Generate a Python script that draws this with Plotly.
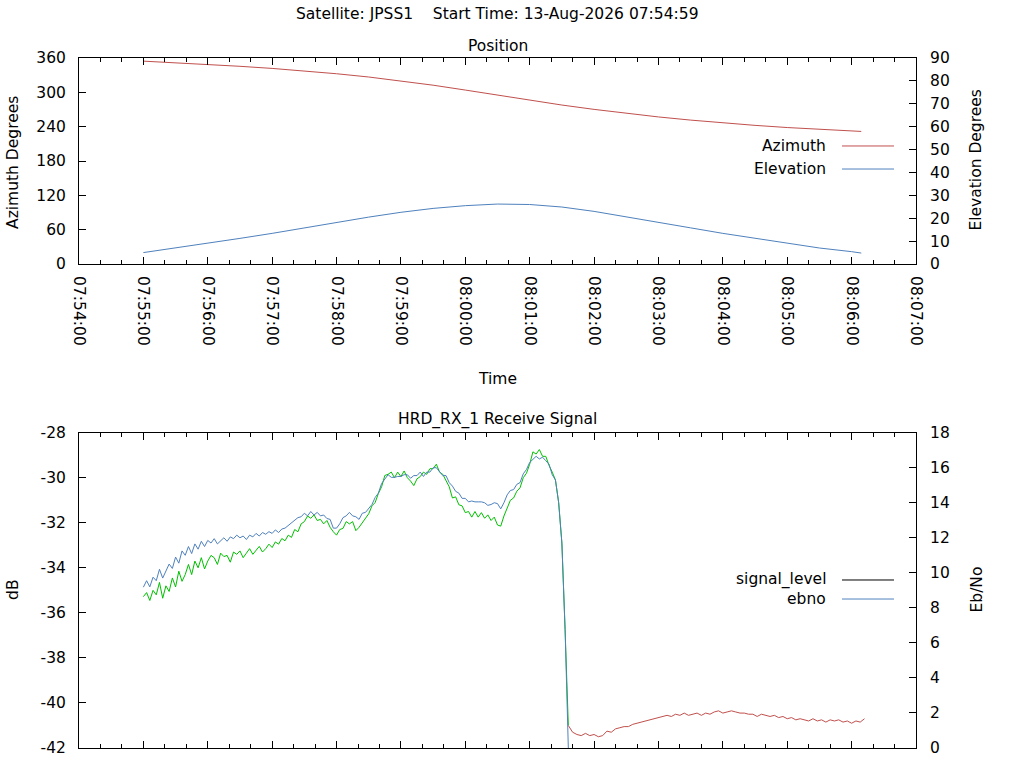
"""Satellite pass plot: position (az/el) and HRD_RX_1 receive signal."""

import pandas as pd
import plotly.graph_objects as go

START = pd.Timestamp("2026-08-13 07:55:00")

# --- Position (seconds after 07:55:00) ---
pos_t = [0, 30, 60, 90, 120, 150, 180, 210, 240, 270, 300, 330, 360,
         390, 420, 450, 480, 510, 540, 570, 600, 630, 660, 669]
azimuth = [354.5, 351.8, 348.8, 345.5, 341.8, 337.5, 332.5, 326.8, 320.2,
           312.5, 304.0, 295.0, 286.2, 277.8, 270.2, 263.2, 257.0, 251.5,
           246.6, 242.3, 238.5, 235.2, 232.4, 231.7]
elevation = [5.0, 7.0, 9.0, 11.2, 13.4, 15.8, 18.1, 20.5, 22.6, 24.3, 25.5,
             26.2, 26.0, 24.9, 23.0, 20.7, 18.2, 15.8, 13.4, 11.2, 9.0, 7.0,
             5.4, 4.8]

# --- Receive signal, locked part (every 3 s from 07:55:00) ---
sig_t = list(range(0, 397, 3))
signal_locked = [
    -35.28, -35.10, -35.45, -35.00, -35.20, -34.65, -35.35, -34.80, -35.05, -34.45,
    -34.85, -34.15, -34.60, -34.30, -33.85, -34.30, -33.70, -34.00, -33.55, -34.05,
    -33.70, -33.45, -33.55, -33.85, -33.35, -33.50, -33.45, -33.75, -33.30, -33.40,
    -33.25, -33.55, -33.35, -33.15, -33.40, -33.20, -33.05, -33.30, -33.15, -32.95,
    -33.10, -32.85, -32.95, -32.70, -32.80, -32.55, -32.65, -32.30, -32.40, -32.05,
    -31.95, -31.70, -31.80, -31.65, -31.90, -31.85, -32.05, -31.90, -32.20, -32.40,
    -32.55, -32.30, -32.25, -31.95, -32.05, -31.95, -32.35, -32.20, -32.00, -31.75,
    -31.60, -31.25, -31.10, -30.70, -30.40, -29.90, -29.85, -29.75, -30.00, -29.75,
    -29.95, -29.70, -30.00, -30.15, -30.35, -30.05, -29.95, -29.75, -29.85, -29.60,
    -29.60, -29.40, -29.75, -29.85, -30.10, -30.40, -30.90, -30.85, -31.20, -31.25,
    -31.55, -31.50, -31.75, -31.50, -31.75, -31.55, -31.80, -31.65, -31.90, -31.75,
    -32.10, -32.15, -31.70, -31.35, -31.00, -30.90, -30.60, -30.45, -30.00, -29.80,
    -29.40, -28.85, -28.95, -28.75, -29.05, -29.05, -29.45, -29.75, -30.10, -31.10,
    -32.90, -36.75, -41.00,
]
ebno = [
    9.18, 9.55, 9.20, 9.75, 9.55, 10.20, 9.70, 10.10, 10.50, 10.25,
    10.90, 10.55, 11.25, 11.00, 11.50, 11.10, 11.65, 11.35, 11.80, 11.50,
    11.85, 11.70, 11.95, 11.65, 11.85, 12.00, 11.80, 12.05, 11.95, 12.15,
    12.00, 12.10, 11.90, 12.15, 12.05, 12.25, 12.10, 12.30, 12.20, 12.35,
    12.25, 12.45, 12.30, 12.50, 12.55, 12.70, 12.85, 13.00, 13.15, 13.20,
    13.40, 13.25, 13.50, 13.30, 13.45, 13.25, 13.30, 13.10, 13.05, 12.55,
    12.55, 12.80, 13.15, 13.25, 13.45, 13.25, 13.20, 13.05, 13.40, 13.45,
    13.70, 13.90, 14.30, 14.55, 15.10, 15.35, 15.60, 15.45, 15.45, 15.50,
    15.50, 15.60, 15.60, 15.40, 15.55, 15.55, 15.75, 15.50, 15.75, 15.75,
    16.00, 16.00, 15.80, 15.55, 15.55, 15.15, 14.95, 14.65, 14.55, 14.25,
    14.25, 14.05, 14.10, 14.05, 14.05, 14.05, 14.00, 13.85, 13.90, 14.00,
    13.95, 13.65, 14.00, 14.45, 14.70, 14.75, 15.05, 15.15, 15.65, 15.90,
    16.30, 16.45, 16.65, 16.50, 16.60, 16.40, 16.20, 15.60, 15.30, 14.00,
    11.70, 6.75, 0.00,
]

# --- Receive signal, unlocked part (every 4 s) ---
unl_t = list(range(396, 673, 4))
signal_unlocked = [
    -41.00, -41.30, -41.40, -41.45, -41.35, -41.45, -41.40, -41.50, -41.45, -41.25,
    -41.30, -41.15, -41.10, -41.05, -41.05, -40.95, -40.90, -40.85, -40.80, -40.75,
    -40.70, -40.65, -40.60, -40.55, -40.60, -40.50, -40.55, -40.45, -40.55, -40.50,
    -40.45, -40.55, -40.45, -40.50, -40.40, -40.35, -40.45, -40.40, -40.35, -40.40,
    -40.45, -40.45, -40.50, -40.50, -40.60, -40.50, -40.55, -40.60, -40.55, -40.65,
    -40.60, -40.70, -40.65, -40.75, -40.70, -40.75, -40.80, -40.70, -40.80, -40.75,
    -40.85, -40.75, -40.80, -40.75, -40.85, -40.80, -40.90, -40.80, -40.85, -40.70,
]

db_ticks = [-42, -40, -38, -36, -34, -32, -30, -28]

RED = "#c0504d"
BLUE = "#4f81bd"
GREEN = "#00c000"
FONT = "DejaVu Sans"
FSIZE = 15.5


def to_time(secs):
    return [START + pd.Timedelta(seconds=s) for s in secs]


fig = go.Figure()
fig.add_trace(go.Scatter(x=to_time(pos_t), y=azimuth, mode="lines",
                         line=dict(color=RED, width=1), xaxis="x", yaxis="y"))
fig.add_trace(go.Scatter(x=to_time(pos_t), y=elevation, mode="lines",
                         line=dict(color=BLUE, width=1), xaxis="x", yaxis="y2"))
fig.add_trace(go.Scatter(x=to_time(sig_t), y=signal_locked, mode="lines",
                         line=dict(color=GREEN, width=1), xaxis="x2", yaxis="y3"))
fig.add_trace(go.Scatter(x=to_time(unl_t), y=signal_unlocked, mode="lines",
                         line=dict(color=RED, width=1), xaxis="x2", yaxis="y3"))
fig.add_trace(go.Scatter(x=to_time(sig_t), y=ebno, mode="lines",
                         line=dict(color=BLUE, width=1), xaxis="x2", yaxis="y4"))

x_range = ["2026-08-13 07:54:00", "2026-08-13 08:07:00"]
axis_common = dict(showline=True, linecolor="black", linewidth=1, ticks="inside",
                   ticklen=7, tickcolor="black", showgrid=False, zeroline=False,
                   tickfont=dict(family=FONT, size=FSIZE, color="black"))
minor = dict(dtick=20000, ticks="inside", ticklen=4, tickcolor="black", showgrid=False)

fig.update_layout(
    width=1024, height=768, showlegend=False,
    paper_bgcolor="white", plot_bgcolor="white",
    margin=dict(l=79, r=108, t=58, b=20),
    font=dict(family=FONT, size=FSIZE, color="black"),
    xaxis=dict(axis_common, type="date", range=x_range, dtick=60000,
               tickformat="%H:%M:%S", tickangle=90, mirror="ticks", minor=minor,
               anchor="y", domain=[0, 1], ticklabelstandoff=8),
    yaxis=dict(axis_common, range=[0, 360], dtick=60, domain=[0.7014, 1],
               anchor="x", ticklabelstandoff=9),
    yaxis2=dict(axis_common, range=[0, 90], dtick=10, overlaying="y",
                side="right", anchor="x", ticklabelstandoff=10),
    xaxis2=dict(axis_common, type="date", range=x_range, dtick=60000,
                mirror="ticks", minor=minor, showticklabels=False,
                anchor="y3", domain=[0, 1]),
    # plain hyphen minus signs, as in the original
    yaxis3=dict(axis_common, range=[-42, -28], tickvals=db_ticks,
                ticktext=[str(v) for v in db_ticks], domain=[0, 0.457],
                anchor="x2", ticklabelstandoff=9),
    yaxis4=dict(axis_common, range=[0, 18], dtick=2, overlaying="y3",
                side="right", anchor="x2", ticklabelstandoff=10),
)


def label(text, x, y, angle=0, xanchor="center"):
    fig.add_annotation(text=text, x=x, y=y, xref="paper", yref="paper",
                       showarrow=False, textangle=angle, xanchor=xanchor,
                       yanchor="middle",
                       font=dict(family=FONT, size=FSIZE, color="black"))


label("Satellite: JPSS1    Start Time: 13-Aug-2026 07:54:59", 0.5, 1.0638)
label("Position", 0.5, 1.0174)
label("HRD_RX_1 Receive Signal", 0.5, 0.4754)
label("Time", 0.5, 0.5348)
label("Azimuth Degrees", -0.0789, 0.8493, angle=-90)
label("Elevation Degrees", 1.0717, 0.8514, angle=-90)
label("dB", -0.0789, 0.229, angle=-90)
label("Eb/No", 1.0723, 0.229, angle=-90)

# gnuplot-style keys: text on the left, line sample on the right
keys = [
    ("Azimuth", RED, 0.8725),
    ("Elevation", BLUE, 0.8391),
    ("signal_level", "black", 0.2435),
    ("ebno", BLUE, 0.2159),
]
for text, color, ky in keys:
    label(text, 0.8949, ky, xanchor="right")
    fig.add_shape(type="line", xref="paper", yref="paper", x0=0.9116, x1=0.9737,
                  y0=ky, y1=ky, line=dict(color=color, width=1))

# drop the browser's default 8px body margin so the figure sits at 0,0
fig.write_html("out.html", config={"displayModeBar": False},
               post_script="document.body.style.margin='0';")
